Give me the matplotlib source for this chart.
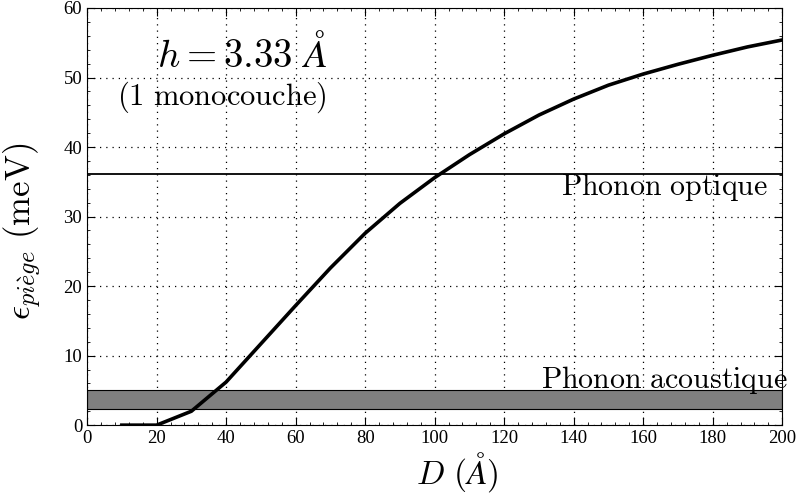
import matplotlib
matplotlib.use('Agg')
import matplotlib.pyplot as plt
from matplotlib.ticker import MultipleLocator

plt.rcParams['mathtext.fontset'] = 'cm'
plt.rcParams['font.family'] = 'serif'
plt.rcParams['font.serif'] = ['Liberation Serif', 'DejaVu Serif']

# data
D = [10, 20, 30, 40, 50, 60, 70, 80, 90, 100, 110, 120, 130, 140, 150, 160, 170, 180, 190, 200]
eps = [0.0, 0.0, 2.0, 6.2, 11.7, 17.2, 22.6, 27.6, 31.9, 35.6, 38.9, 41.9, 44.6, 46.9, 48.9, 50.5, 51.9, 53.2, 54.4, 55.4]
optique = 36.1
acoustique = (2.35, 5.1)

fig = plt.figure(figsize=(7.99, 4.99), dpi=100)
ax = fig.add_axes([0.109, 0.148, 0.870, 0.836])

ax.fill_between([0, 200], acoustique[0], acoustique[1], facecolor='#808080',
                edgecolor='black', linewidth=0.8, zorder=2)
ax.axhline(optique, color='black', linewidth=1.3, zorder=3)
ax.plot(D, eps, color='black', linewidth=2.6, zorder=4)

ax.set_xlim(0, 200)
ax.set_ylim(0, 60)
ax.xaxis.set_major_locator(MultipleLocator(20))
ax.yaxis.set_major_locator(MultipleLocator(10))
ax.xaxis.set_minor_locator(MultipleLocator(4))
ax.yaxis.set_minor_locator(MultipleLocator(2))
ax.tick_params(which='both', direction='in', top=True, right=True, labelsize=13.5)
ax.tick_params(which='major', length=6, width=0.8)
ax.tick_params(which='minor', length=2.5, width=0.6)
ax.grid(True, which='major', linestyle=(0, (1, 4)), color='black', linewidth=0.9)

ax.set_xlabel(r'$D\ (\AA)$', fontsize=24, labelpad=0)
ax.xaxis.set_label_coords(0.532, -0.06)
ax.set_ylabel(r'$\epsilon_{pi\grave{e}ge}\ \mathrm{(meV)}$', fontsize=25)
ax.yaxis.set_label_coords(-0.062, 0.465)

ax.text(44.6, 53.2, r'$h = 3.33\ \AA$', fontsize=28, ha='center', va='center')
ax.text(38.8, 47.2, r'$\mathrm{(1\ monocouche)}$', fontsize=22, ha='center', va='center')
ax.text(195.8, 34.2, r'$\mathrm{Phonon\ optique}$', fontsize=21.5, ha='right', va='center')
ax.text(201.7, 6.5, r'$\mathrm{Phonon\ acoustique}$', fontsize=21.5, ha='right', va='center')

fig.savefig('out.png', dpi=100)
